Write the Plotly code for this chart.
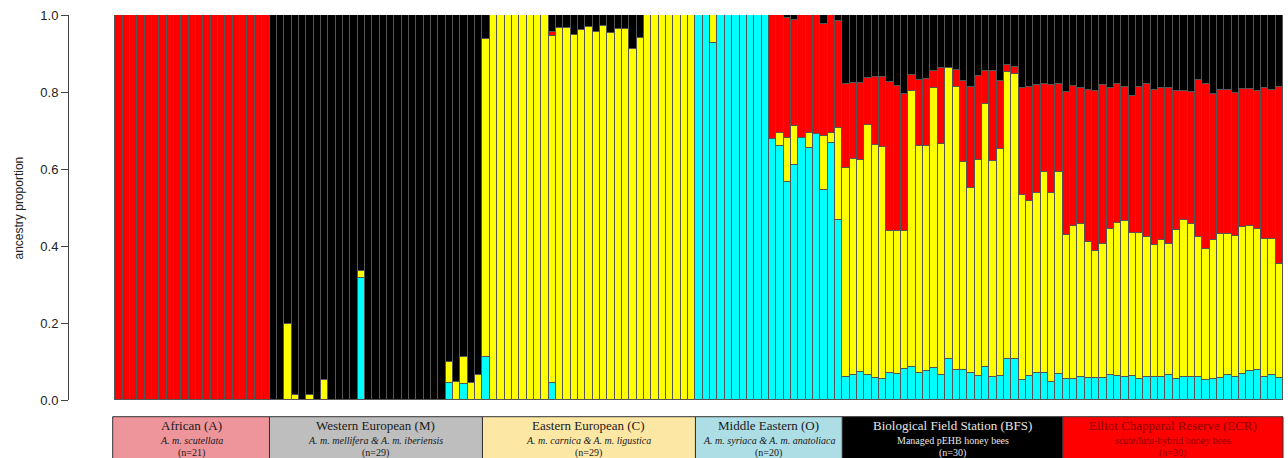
import plotly.graph_objects as go

# ---------------- data ----------------
groups = ["African (A)", "Western European (M)", "Eastern European (C)",
          "Middle Eastern (O)", "Biological Field Station (BFS)",
          "Elliot Chapparal Reserve (ECR)"]
subtitles = ["<i>A. m. scutellata</i>",
             "<i>A. m. mellifera &amp; A. m. iberiensis</i>",
             "<i>A. m. carnica &amp; A. m. ligustica</i>",
             "<i>A. m. syriaca &amp; A. m. anatoliaca</i>",
             "Managed pEHB honey bees",
             "<i>scutellata</i>-hybrid honey bees"]
group_sizes = [21, 29, 29, 20, 30, 30]

# cumulative boundaries (top of cyan, top of yellow, top of red); black fills to 1.0
cyan_top = (
    [0] * 21
    + [0, 0, 0, 0, 0, 0, 0, 0, 0, 0, 0, 0, .316, 0, 0, 0, 0, 0, 0, 0, 0, 0, 0, 0, .045, 0, .042, 0, 0]
    + [.112, 0, 0, 0, 0, 0, 0, 0, 0, .043, 0, 0, 0, 0, 0, 0, 0, 0, 0, 0, 0, 0, 0, 0, 0, 0, 0, 0, 0]
    + [1, 1, .928, 1, 1, 1, 1, 1, 1, 1, .677, .661, .565, .611, .680, .655, .691, .545, .668, .468]
    + [.061, .064, .072, .064, .056, .054, .069, .068, .080, .087, .069, .076, .082, .066, .106,
       .078, .079, .069, .062, .087, .060, .063, .106, .106, .052, .062, .071, .069, .046, .068]
    + [.055, .055, .061, .057, .056, .057, .064, .062, .060, .062, .054, .060, .061, .059, .066,
       .055, .059, .059, .059, .052, .055, .058, .066, .061, .068, .075, .078, .061, .064, .056]
)
yellow_top = (
    [0] * 21
    + [0, 0, .197, .012, 0, .012, 0, .051, 0, 0, 0, 0, .336, 0, 0, 0, 0, 0, 0, 0, 0, 0, 0, 0, .100, .048, .111, .045, .065]
    + [.937, 1, 1, 1, 1, 1, 1, 1, 1, .945, .965, .965, .948, .960, .970, .955, .971, .954, .964, .963,
       .913, .941, 1, 1, 1, 1, 1, 1, 1]
    + [1, 1, 1, 1, 1, 1, 1, 1, 1, 1, .677, .693, .680, .713, .680, .694, .691, .685, .693, .706]
    + [.602, .626, .623, .713, .662, .656, .438, .438, .438, .803, .660, .661, .811, .666, .863,
       .814, .617, .550, .623, .768, .620, .651, .853, .847, .532, .516, .537, .593, .537, .593]
    + [.429, .453, .458, .411, .387, .405, .443, .461, .465, .435, .435, .423, .403, .416, .405,
       .442, .468, .456, .423, .391, .415, .432, .430, .427, .449, .451, .445, .417, .419, .352]
)
red_top = (
    [1] * 21
    + [0, 0, .197, .012, 0, .012, 0, .051, 0, 0, 0, 0, .336, 0, 0, 0, 0, 0, 0, 0, 0, 0, 0, 0, .100, .048, .111, .045, .065]
    + [.937, 1, 1, 1, 1, 1, 1, 1, 1, .955, .965, .965, .948, .960, .970, .955, .971, .954, .964, .963,
       .913, .941, 1, 1, 1, 1, 1, 1, 1]
    + [1, 1, 1, 1, 1, 1, 1, 1, 1, 1, 1, 1, .991, .987, 1, 1, 1, .976, 1, .984]
    + [.822, .824, .824, .836, .840, .839, .825, .816, .796, .844, .832, .833, .855, .862, .863,
       .858, .828, .814, .842, .854, .855, .829, .869, .866, .811, .814, .819, .821, .817, .822]
    + [.799, .816, .810, .804, .803, .818, .811, .821, .814, .790, .812, .820, .805, .810, .810,
       .802, .802, .801, .830, .820, .796, .805, .805, .798, .809, .808, .803, .810, .805, .812]
)

cluster_colors = ["#00FFFF", "#FFFF00", "#FF0000", "#000000"]
box_fill = ["#EE959B", "#BEBEBE", "#FDE7A5", "#ADDDE5", "#000000", "#FF0000"]
box_text = ["#1a1a1a", "#1a1a1a", "#1a1a1a", "#1a1a1a", "#E6E6E6", "#8B0000"]

# ---------------- build ----------------
n = len(cyan_top)
x = list(range(n))


def seg(lo, hi):
    out = []
    for a, b in zip(lo, hi):
        v = b - a
        out.append(v if v > 0.0005 else None)
    return out


components = [
    seg([0] * n, cyan_top),
    seg(cyan_top, yellow_top),
    seg(yellow_top, red_top),
    seg(red_top, [1] * n),
]

fig = go.Figure()
for comp, col in zip(components, cluster_colors):
    fig.add_trace(go.Bar(
        x=x, y=comp, marker=dict(color=col, line=dict(color="#555555", width=1)),
        hoverinfo="skip", showlegend=False))

xmin, xmax = -6.8, n - 0.5


def px(v):
    return (v - xmin) / (xmax - xmin)


shapes = []
annotations = []
start = 0
for i, (g, sub, cnt) in enumerate(zip(groups, subtitles, group_sizes)):
    x0 = start - 0.5 if i > 0 else -0.85
    x1 = start + cnt - 0.5
    shapes.append(dict(type="rect", xref="paper", yref="paper",
                       x0=px(x0), x1=px(x1), y0=-0.0434, y1=-0.25,
                       fillcolor=box_fill[i], line=dict(color="#333333", width=1)))
    xc = px((x0 + x1) / 2)
    annotations.append(dict(text=g, x=xc, y=-0.0668, xref="paper", yref="paper",
                            showarrow=False, xanchor="center", yanchor="middle",
                            font=dict(family="Liberation Serif", size=13, color=box_text[i])))
    annotations.append(dict(text=sub, x=xc, y=-0.1039, xref="paper", yref="paper",
                            showarrow=False, xanchor="center", yanchor="middle",
                            font=dict(family="Liberation Serif", size=10, color=box_text[i])))
    annotations.append(dict(text=f"(n={cnt})", x=xc, y=-0.1377, xref="paper", yref="paper",
                            showarrow=False, xanchor="center", yanchor="middle",
                            font=dict(family="Liberation Serif", size=10, color=box_text[i])))
    start += cnt

annotations.append(dict(text="ancestry proportion", x=-0.0412, y=0.5, xref="paper", yref="paper",
                        textangle=-90, showarrow=False, xanchor="center", yanchor="middle",
                        font=dict(family="Liberation Sans", size=12, color="#222222")))

fig.update_layout(
    width=1288, height=458,
    margin=dict(l=69, r=5, t=15, b=58),
    barmode="stack", bargap=0,
    plot_bgcolor="white", paper_bgcolor="white",
    xaxis=dict(range=[xmin, xmax], visible=False, showgrid=False, zeroline=False),
    yaxis=dict(range=[0, 1], tickvals=[0, 0.2, 0.4, 0.6, 0.8, 1.0], tickformat=".1f",
               showline=True, linecolor="#444444", linewidth=1,
               ticks="outside", ticklen=7, tickcolor="#444444",
               showgrid=False, zeroline=False,
               tickfont=dict(family="Liberation Sans", size=13, color="#222222")),
    shapes=shapes, annotations=annotations,
)

fig.write_html("out.html", config={"displayModeBar": False},
               post_script="document.body.style.margin='0';document.body.style.padding='0';")
